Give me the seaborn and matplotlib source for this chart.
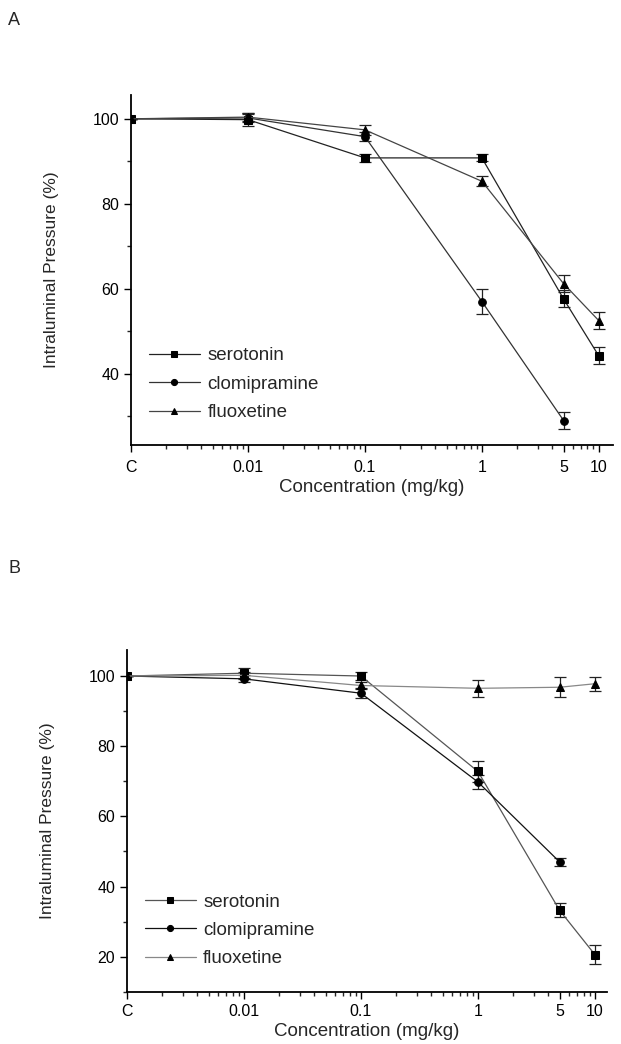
import numpy as np
import pandas as pd
import seaborn as sns
import matplotlib.pyplot as plt
from matplotlib.ticker import FixedLocator, NullFormatter, LogLocator

# concentrations (mg/kg); "C" = control, drawn one decade below 0.01
conc = [0.001, 0.01, 0.1, 1, 5, 10]
tick_pos = [0.001, 0.01, 0.1, 1, 5, 10]
tick_lab = ["C", "0.01", "0.1", "1", "5", "10"]

# panel A
a_sero = [100, 99.8, 90.8, 90.8, 57.6, 44.2]
a_sero_err = [0, 1.5, 1.0, 0.8, 2.0, 2.0]
a_clomi = [100, 100.2, 95.8, 57.0, 29.0, None]
a_clomi_err = [0, 1.0, 1.0, 3.0, 2.0, None]
a_fluox = [100, 100.4, 97.4, 85.3, 61.2, 52.5]
a_fluox_err = [0, 1.0, 1.2, 1.2, 2.0, 2.0]

# panel B
b_sero = [100, 100.8, 100, 72.8, 33.2, 20.6]
b_sero_err = [0, 1.5, 1.2, 3.0, 2.0, 2.8]
b_clomi = [100, 99.2, 95.1, 69.8, 47.0, None]
b_clomi_err = [0, 1.0, 1.5, 2.0, 1.2, None]
b_fluox = [100, 100.2, 97.3, 96.5, 96.8, 97.8]
b_fluox_err = [0, 1.0, 1.0, 2.5, 2.8, 2.0]

names = ["serotonin", "clomipramine", "fluoxetine"]
markers = ["s", "o", "^"]

sns.set_style("ticks")
plt.rcParams['font.family'] = ['Liberation Sans', 'DejaVu Sans']

fig = plt.figure(figsize=(6.21, 10.44), dpi=100)
axA = fig.add_axes([0.211, 0.574, 0.776, 0.335])
axB = fig.add_axes([0.2045, 0.050, 0.773, 0.327])


def panel(ax, series, errs, colors, ylim, yticks, leg_anchor, xpad):
    for name, vals, err, mk, col in zip(names, series, errs, markers, colors):
        df = pd.DataFrame({"x": conc, "y": vals, "e": err}).dropna()
        ax.errorbar(df["x"], df["y"], yerr=df["e"], fmt="none", ecolor="#222222",
                    elinewidth=0.9, capsize=4, capthick=0.9, zorder=2)
        sns.lineplot(data=df, x="x", y="y", ax=ax, color=col, lw=0.9,
                     marker=mk, markersize=6 if mk != "o" else 5.5,
                     markerfacecolor="black", markeredgecolor="black",
                     label=name, zorder=3)
    ax.set_xscale("log")
    ax.set_xlim(0.001, ylim[2])
    ax.set_ylim(ylim[0], ylim[1])
    ax.xaxis.set_major_locator(FixedLocator(tick_pos))
    ax.set_xticklabels(tick_lab)
    ax.xaxis.set_minor_locator(LogLocator(base=10, subs=np.arange(2, 10)))
    ax.xaxis.set_minor_formatter(NullFormatter())
    ax.set_yticks(yticks)
    ax.set_yticks(np.arange(yticks[0] - 10, ylim[1], 10), minor=True)
    ax.tick_params(axis="both", which="major", direction="out", length=5,
                   width=1, labelsize=11.5, colors="black")
    ax.tick_params(axis="x", which="major", pad=xpad)
    ax.tick_params(axis="both", which="minor", direction="out", length=3, width=1)
    for s in ["left", "bottom"]:
        ax.spines[s].set_linewidth(1.3)
        ax.spines[s].set_color("black")
    sns.despine(ax=ax)
    ax.set_xlabel("Concentration (mg/kg)", fontsize=13.5, labelpad=3)
    ax.set_ylabel("Intraluminal Pressure (%)", fontsize=12.5, labelpad=24)
    leg = ax.legend(loc="upper left", bbox_to_anchor=leg_anchor, frameon=False,
                    fontsize=13.5, handlelength=2.7, handletextpad=0.4,
                    labelspacing=0.6, borderaxespad=0, markerscale=0.8)


panel(axA, [a_sero, a_clomi, a_fluox], [a_sero_err, a_clomi_err, a_fluox_err],
      ["#222222", "#333333", "#444444"], (23.3, 105.6, 13.2), [40, 60, 80, 100],
      (0.022, 0.30), 6)
panel(axB, [b_sero, b_clomi, b_fluox], [b_sero_err, b_clomi_err, b_fluox_err],
      ["#555555", "#111111", "#888888"], (14.4, 107.3, 12.7), [20, 40, 60, 80, 100],
      (0.022, 0.31), 4)

fig.text(0.013, 0.976, "A", fontsize=13)
fig.text(0.013, 0.451, "B", fontsize=13)

fig.savefig("out.png", dpi=100)
